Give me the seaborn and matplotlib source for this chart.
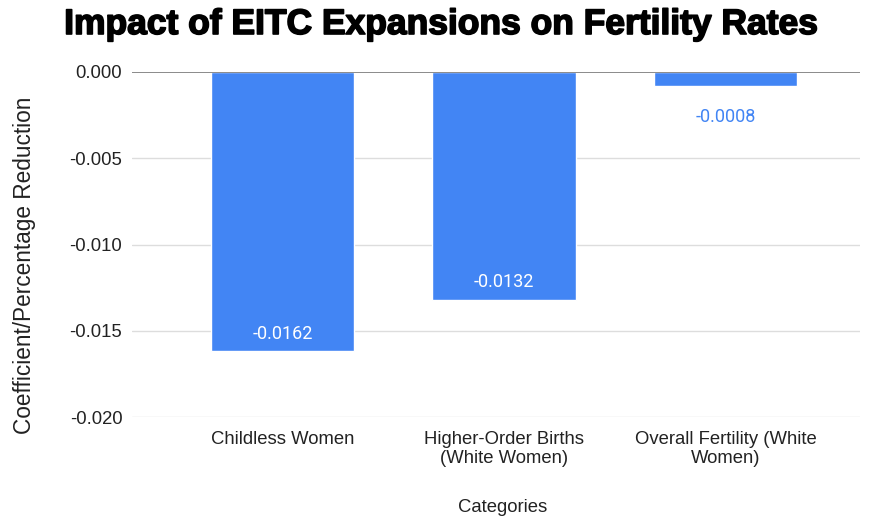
import matplotlib
matplotlib.use("Agg")
import matplotlib.pyplot as plt
import matplotlib.patheffects as pe
import seaborn as sns
import pandas as pd

categories = ["Childless Women", "Higher-Order Births\n(White Women)", "Overall Fertility (White\nWomen)"]
values = [-0.0162, -0.0132, -0.0008]
labels = ["-0.0162", "-0.0132", "-0.0008"]
yticks = [0.0, -0.005, -0.010, -0.015, -0.020]
ytick_labels = ["0.000", "-0.005", "-0.010", "-0.015", "-0.020"]

sns.set_theme(style="white")
plt.rcParams['font.family'] = ['Liberation Sans', 'DejaVu Sans']

df = pd.DataFrame({"cat": categories, "val": values})
BLUE = "#4285F4"
TXT = "#222222"

fig = plt.figure(figsize=(8.74, 5.18), dpi=100)
ax = fig.add_axes([132/874, 1-417/518, (860-132)/874, (417-72)/518])
sns.barplot(data=df, x="cat", y="val", color=BLUE, width=0.646, ax=ax, saturation=1)
ax.set_xlim(-0.679, 2.607)
ax.set_ylim(-0.020, 0.0)

ax.set_yticks(yticks)
ax.set_yticklabels(ytick_labels, fontsize=13.3, color=TXT)
ax.tick_params(axis='y', length=0, pad=7)
ax.tick_params(axis='x', length=0, pad=10)
ax.set_xticklabels(categories, fontsize=13.3, color=TXT, linespacing=1.2)
for y in yticks[1:]:
    ax.axhline(y, color="#dddddd", lw=1, zorder=0)
ax.axhline(0, color="#777777", lw=1.2, zorder=3)
for s in ax.spines.values():
    s.set_visible(False)

for i, (v, lab) in enumerate(zip(values, labels)):
    if abs(v) > 0.003:
        ax.text(i, v + 0.0010, lab, ha="center", va="center", color="white",
                fontsize=13, family=["Roboto", "DejaVu Sans"])
    else:
        ax.text(i, v - 0.0018, lab, ha="center", va="center", color=BLUE,
                fontsize=13, family=["Roboto", "DejaVu Sans"])

ax.set_xlabel("Categories", fontsize=13.3, color=TXT)
ax.xaxis.set_label_coords((503-132)/728, (417-508)/345)
ax.xaxis.label.set_va("center")
ax.set_ylabel("Coefficient/Percentage Reduction", fontsize=16.3, color=TXT)
ax.yaxis.set_label_coords((25-132)/728, (417-265)/345)
ax.yaxis.label.set_va("center")

fig.text(441/874, 1-24.5/518, "Impact of EITC Expansions on Fertility Rates",
         ha="center", va="center", fontsize=25.5, fontweight="bold", color="black",
         path_effects=[pe.withStroke(linewidth=1.2, foreground="black")])

fig.savefig("out.png", dpi=100)
